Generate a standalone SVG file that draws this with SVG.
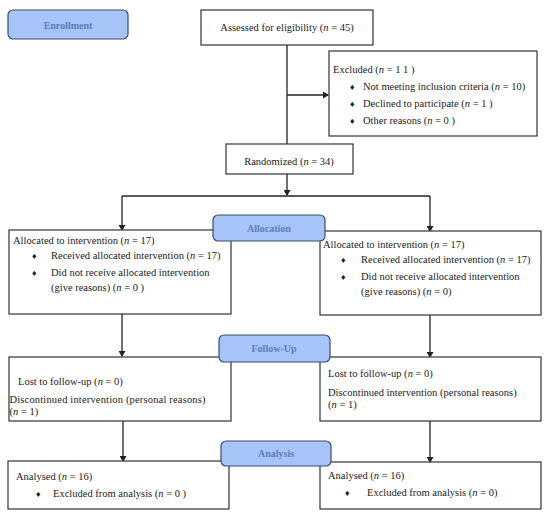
<svg xmlns="http://www.w3.org/2000/svg" width="550" height="515" viewBox="0 0 550 515">
<defs>
<marker id="arr" markerWidth="6" markerHeight="7" refX="5" refY="3.5" orient="auto" markerUnits="userSpaceOnUse">
<path d="M0,0 L6,3.5 L0,7 Z" fill="#222"/>
</marker>
<style>
.box{fill:#fff;stroke:#333;stroke-width:1.2}
.lbl{fill:#a6c4f7;stroke:#3d4b66;stroke-width:1.2}
.lt{font-family:"Liberation Serif",serif;font-size:10px;font-weight:bold;fill:#5b7cbc;text-anchor:middle}
.t{font-family:"Liberation Serif",serif;font-size:10.5px;fill:#222}
.c{text-anchor:middle}
.ln{stroke:#222;stroke-width:1.3;fill:none}
.b{font-size:9px}
</style>
</defs>
<rect width="550" height="515" fill="#fff"/>
<g id="connectors">
<path class="ln" d="M287,45 V144"/>
<path class="ln" d="M287,95 H328" marker-end="url(#arr)"/>
<path class="ln" d="M287,174 V195" marker-end="url(#arr)"/>
<path class="ln" d="M122,196 H430"/>
<path class="ln" d="M122,196 V230" marker-end="url(#arr)"/>
<path class="ln" d="M430,196 V231" marker-end="url(#arr)"/>
<path class="ln" d="M122,314 V356" marker-end="url(#arr)"/>
<path class="ln" d="M430,315 V357" marker-end="url(#arr)"/>
<path class="ln" d="M123,421 V461" marker-end="url(#arr)"/>
<path class="ln" d="M430,421 V462" marker-end="url(#arr)"/>
</g>
<g id="enrollment">
<rect class="lbl" x="8" y="10" width="120" height="29" rx="5"/>
<text class="lt" x="68" y="29">Enrollment</text>
</g>
<g id="assessed">
<rect class="box" x="201" y="10" width="172" height="35"/>
<text class="t c" x="287" y="31">Assessed for eligibility (<tspan font-style="italic">n</tspan> = 45)</text>
</g>
<g id="excluded">
<rect class="box" x="329" y="51" width="208" height="85"/>
<text class="t" x="333" y="73">Excluded (<tspan font-style="italic">n</tspan> = 1 1 )</text>
<text class="t b" x="350" y="90">♦</text>
<text class="t" x="363" y="90">Not meeting inclusion criteria (<tspan font-style="italic">n</tspan> = 10)</text>
<text class="t b" x="350" y="107">♦</text>
<text class="t" x="363" y="107">Declined to participate (<tspan font-style="italic">n</tspan> = 1 )</text>
<text class="t b" x="350" y="124">♦</text>
<text class="t" x="363" y="124">Other reasons (<tspan font-style="italic">n</tspan> = 0 )</text>
</g>
<g id="randomized">
<rect class="box" x="226" y="144" width="127" height="30"/>
<text class="t c" x="289" y="165">Randomized (<tspan font-style="italic">n</tspan> = 34)</text>
</g>
<g id="alloc-left">
<rect class="box" x="9" y="230" width="222" height="84"/>
<text class="t" x="13" y="244">Allocated to intervention (<tspan font-style="italic">n</tspan> = 17)</text>
<text class="t b" x="32" y="259">♦</text>
<text class="t" x="51" y="259">Received allocated intervention (<tspan font-style="italic">n</tspan> = 17)</text>
<text class="t b" x="32" y="276">♦</text>
<text class="t" x="51" y="276">Did not receive allocated intervention</text>
<text class="t" x="51" y="291">(give reasons) (<tspan font-style="italic">n</tspan> = 0 )</text>
</g>
<g id="alloc-right">
<rect class="box" x="320" y="231" width="221" height="84"/>
<text class="t" x="323" y="248">Allocated to intervention (<tspan font-style="italic">n</tspan> = 17)</text>
<text class="t b" x="341" y="263">♦</text>
<text class="t" x="361" y="263">Received allocated intervention (<tspan font-style="italic">n</tspan> = 17)</text>
<text class="t b" x="341" y="280">♦</text>
<text class="t" x="361" y="280">Did not receive allocated intervention</text>
<text class="t" x="361" y="295">(give reasons) (<tspan font-style="italic">n</tspan> = 0)</text>
</g>
<g id="allocation">
<rect class="lbl" x="213" y="215" width="112" height="26" rx="5"/>
<text class="lt" x="269" y="232">Allocation</text>
</g>
<g id="followup-left">
<rect class="box" x="9" y="357" width="222" height="64"/>
<text class="t" x="18" y="385">Lost to follow-up (<tspan font-style="italic">n</tspan> = 0)</text>
<text class="t" x="9.5" y="403" textLength="196" lengthAdjust="spacing">Discontinued intervention (personal reasons)</text>
<text class="t" x="9.5" y="415">(<tspan font-style="italic">n</tspan> = 1)</text>
</g>
<g id="followup-right">
<rect class="box" x="320" y="357" width="221" height="64"/>
<text class="t" x="328" y="377">Lost to follow-up (<tspan font-style="italic">n</tspan> = 0)</text>
<text class="t" x="328" y="396">Discontinued intervention (personal reasons)</text>
<text class="t" x="328" y="408">(<tspan font-style="italic">n</tspan> = 1)</text>
</g>
<g id="followup">
<rect class="lbl" x="219" y="335" width="111" height="27" rx="5"/>
<text class="lt" x="274" y="352">Follow-Up</text>
</g>
<g id="analysis-left">
<rect class="box" x="8" y="461" width="221" height="48"/>
<text class="t" x="16" y="480">Analysed (<tspan font-style="italic">n</tspan> = 16)</text>
<text class="t b" x="36" y="497">♦</text>
<text class="t" x="53" y="497">Excluded from analysis (<tspan font-style="italic">n</tspan> = 0 )</text>
</g>
<g id="analysis-right">
<rect class="box" x="320" y="462" width="221" height="47"/>
<text class="t" x="328" y="479">Analysed (<tspan font-style="italic">n</tspan> = 16)</text>
<text class="t b" x="345" y="496">♦</text>
<text class="t" x="367" y="496">Excluded from analysis (<tspan font-style="italic">n</tspan> = 0)</text>
</g>
<g id="analysis">
<rect class="lbl" x="221" y="441" width="110" height="25" rx="5"/>
<text class="lt" x="276" y="457">Analysis</text>
</g>
</svg>
